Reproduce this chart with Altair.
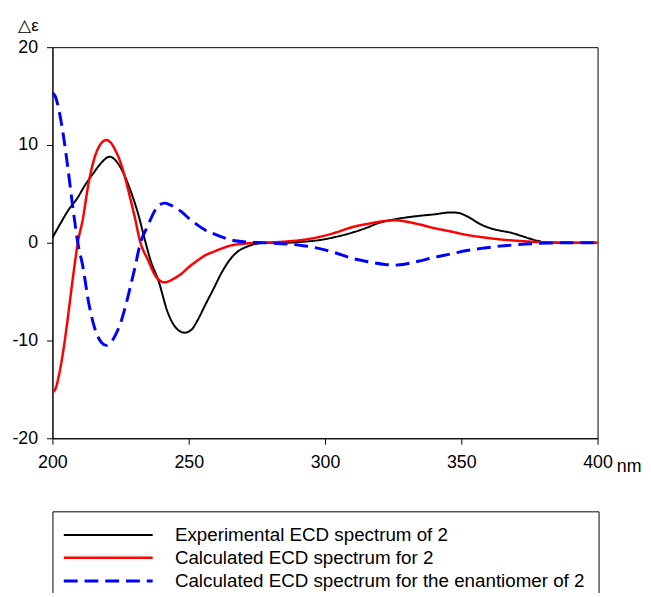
import altair as alt
import pandas as pd

# Experimental ECD spectrum
nm_exp = [200, 203, 206, 209, 212, 215, 218, 221, 224.3, 226.1, 227.9, 229.7, 231.5, 234, 236, 238.8,
          242.4, 246, 248.5, 251, 253.3, 256, 259.3, 262, 265.2, 268, 271.4, 275, 280, 286, 292, 298,
          304, 310, 315, 320, 325.7, 334, 340, 346.3, 349, 351, 354, 356, 360.7, 364, 368, 372, 375,
          378, 381, 385, 390, 400]
de_exp = [0.5, 2.0, 3.4, 4.5, 5.9, 7.1, 8.2, 8.8, 8.0, 7.1, 5.9, 4.5, 2.9, 0.2, -1.8, -3.8,
          -7.2, -8.9, -9.2, -8.9, -7.9, -6.4, -4.6, -3.1, -1.7, -0.9, -0.4, -0.1, 0.0, 0.0, 0.1, 0.27,
          0.6, 1.04, 1.5, 2.05, 2.4, 2.73, 2.9, 3.1, 3.05, 2.85, 2.4, 2.05, 1.48, 1.25, 1.04, 0.7, 0.43,
          0.2, 0.03, 0.0, 0.0, 0.0]

# Calculated spectra
nm_calc = [200, 201, 202.5, 204, 205.5, 207.4, 209.5, 211, 213.4, 215.8, 218, 219.7, 221.5, 223, 225,
           226.7, 228.5, 230.3, 232, 235.1, 237.6, 239.5, 241.2, 243, 245, 247.2, 250, 253.3, 256,
           259.3, 262, 265.3, 271.4, 277.4, 286, 292, 298, 304, 310, 316, 322, 325.7, 330, 334.2, 340,
           346.3, 352, 358.4, 364, 370.5, 376, 382.6, 390, 400]
de_calc = [-15.3, -15.0, -13.4, -11.0, -8.0, -3.8, 0.3, 2.2, 6.3, 9.0, 10.2, 10.5, 10.2, 9.5, 8.2,
           6.6, 4.6, 2.5, 0.3, -1.8, -3.3, -3.9, -4.05, -3.9, -3.6, -3.2, -2.5, -1.8, -1.3,
           -0.9, -0.6, -0.3, -0.07, 0.0, 0.13, 0.3, 0.6, 1.05, 1.6, 1.95, 2.22, 2.29, 2.15, 1.9, 1.5,
           1.14, 0.8, 0.54, 0.35, 0.2, 0.1, 0.03, 0.0, 0.0]
de_enant = [15.3, 15.0, 13.4, 11.0, 8.0, 3.8, -0.3, -2.2, -6.3, -9.0, -10.2, -10.5, -10.2, -9.5, -8.2,
            -6.6, -4.6, -2.5, -0.3, 1.8, 3.3, 3.9, 4.05, 3.9, 3.6, 3.2, 2.5, 1.8, 1.3,
            0.9, 0.6, 0.3, 0.07, 0.0, -0.13, -0.3, -0.6, -1.05, -1.6, -1.95, -2.22, -2.29, -2.15, -1.9, -1.5,
            -1.14, -0.8, -0.54, -0.35, -0.2, -0.1, -0.03, 0.0, 0.0]

names = ["Experimental ECD spectrum of 2",
         "Calculated ECD spectrum for 2",
         "Calculated ECD spectrum for the enantiomer of 2"]
x_ticks = [200, 250, 300, 350, 400]
y_ticks = [-20, -10, 0, 10, 20]

rows = []
for x, y in zip(nm_exp, de_exp):
    rows.append({"nm": x, "de": y, "series": names[0]})
for x, y in zip(nm_calc, de_calc):
    rows.append({"nm": x, "de": y, "series": names[1]})
for x, y in zip(nm_calc, de_enant):
    rows.append({"nm": x, "de": y, "series": names[2]})
df = pd.DataFrame(rows)

FONT = "Liberation Sans"

chart = alt.Chart(df).mark_line(interpolate="monotone", clip=True).encode(
    x=alt.X("nm:Q", scale=alt.Scale(domain=[200, 400], nice=False, zero=False),
            axis=alt.Axis(values=x_ticks, title="nm", titleAngle=0, titleAlign="left",
                          titleBaseline="alphabetic", titleX=571, titleY=34,
                          titleFontSize=18, titleFontWeight="normal",
                          labelFlush=False, labelPadding=10)),
    y=alt.Y("de:Q", scale=alt.Scale(domain=[-20, 20], nice=False),
            axis=alt.Axis(values=y_ticks, title="△ε", titleAngle=0, titleAlign="left",
                          titleBaseline="alphabetic", titleX=-35, titleY=-17,
                          titleFontSize=17, titleFontWeight="normal",
                          labelExpr="'' + datum.value", labelPadding=9)),
    color=alt.Color("series:N", sort=names,
                    scale=alt.Scale(domain=names, range=["#000000", "#ff0000", "#0000ff"]),
                    legend=alt.Legend(title=None)),
    strokeDash=alt.StrokeDash("series:N", sort=names,
                              scale=alt.Scale(domain=names, range=[[1, 0], [1, 0], [14, 7]]),
                              legend=alt.Legend(title=None)),
    strokeWidth=alt.StrokeWidth("series:N",
                                scale=alt.Scale(domain=names, range=[2, 3, 3]),
                                legend=None),
).properties(
    width=552, height=396,
    autosize=alt.AutoSizeParams(type="none"),
    padding={"left": 45, "top": 36, "right": 46, "bottom": 153},
).configure_view(
    stroke="#000000", strokeWidth=1
).configure_axis(
    grid=False, labelFont=FONT, titleFont=FONT, labelFontSize=18, labelColor="#000000",
    titleColor="#000000", domainColor="#000000", tickColor="#000000",
    tickSize=6, domainWidth=1, tickWidth=1
).configure_legend(
    orient="none", legendX=0, legendY=470, padding=13, strokeColor="#000000",
    fillColor="#ffffff", symbolType="M-1.3,0H7.7", symbolSize=400, symbolStrokeWidth=3,
    labelFont=FONT, labelFontSize=19, labelColor="#000000", labelOffset=88,
    rowPadding=1.5, labelLimit=600, direction="vertical"
)

chart.save("out.html", embed_options={"renderer": "svg", "actions": False})
